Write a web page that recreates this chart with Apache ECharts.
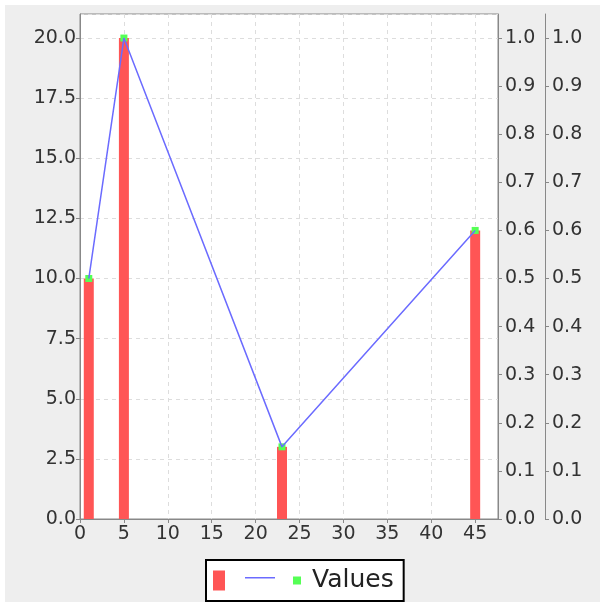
<!DOCTYPE html>
<html>
<head>
<meta charset="utf-8">
<script src="https://cdn.jsdelivr.net/npm/echarts@6/dist/echarts.min.js"></script>
<style>
  html, body { margin: 0; padding: 0; background: #ffffff; }
  #chart { position: absolute; left: 5px; top: 5px; width: 595px; height: 597px; background: #eeeeee; }
</style>
</head>
<body>
<div id="chart"></div>
<script>
// data
var xValues = [1, 5, 23, 45]
var yValues = [10, 20, 3, 12]
// axis ranges / steps
var xRange = [0, 47.6, 5]
var yRange = [0, 21, 2.5]
var rightRange = [0, 1.05, 0.1]

var points = xValues.map(function (x, i) { return [x, yValues[i]] })

var font = 'DejaVu Sans'
var axisGray = '#888888'
var labelSize = 19

function rightAxis(offset) {
  return {
    type: 'value',
    position: 'right',
    offset: offset,
    min: rightRange[0],
    max: rightRange[1],
    interval: rightRange[2],
    axisLine: { show: true, onZero: false, lineStyle: { color: axisGray } },
    axisTick: { show: true, length: 4, lineStyle: { color: axisGray } },
    axisLabel: {
      margin: 7, color: '#333', fontFamily: font, fontSize: labelSize,
      showMaxLabel: false,
      formatter: function (v) { return v.toFixed(1) }
    },
    splitLine: { show: false }
  }
}

var myChart = echarts.init(document.getElementById('chart'), null, { renderer: 'canvas' })

var option = {
  animation: false,
  grid: {
    left: 75, top: 9, right: 102, bottom: 83,
    show: true, backgroundColor: '#ffffff', borderColor: axisGray, borderWidth: 1
  },
  legend: {
    left: 201, top: 555,
    padding: [8, 10, 8, 7],
    backgroundColor: '#ffffff',
    borderColor: '#000000', borderWidth: 2, borderRadius: 0,
    itemWidth: 30, itemHeight: 20, itemGap: 2,
    textStyle: { fontFamily: font, fontSize: 25, color: '#222' },
    formatter: function (name) { return name === 'Values' ? 'Values' : '' },
    data: [
      { name: ' ', icon: 'path://M0 0M30 20M0 0H12V20H0Z' },
      { name: '  ', icon: 'path://M0 0M30 20M0 6.5H30V8H0Z' },
      { name: 'Values', icon: 'path://M0 0M30 20M16 6H24V14H16Z' }
    ]
  },
  xAxis: {
    type: 'value',
    min: xRange[0],
    max: xRange[1],
    interval: xRange[2],
    axisLine: { show: true, onZero: false, lineStyle: { color: axisGray } },
    axisTick: { show: true, length: 4, lineStyle: { color: axisGray } },
    axisLabel: { margin: 6, color: '#333', fontFamily: font, fontSize: labelSize, showMaxLabel: false },
    splitLine: { show: true, lineStyle: { color: '#dddddd', type: [4, 4] } }
  },
  yAxis: [
    {
      type: 'value',
      min: yRange[0],
      max: yRange[1],
      interval: yRange[2],
      axisLine: { show: true, onZero: false, lineStyle: { color: axisGray } },
      axisTick: { show: true, length: 4, lineStyle: { color: axisGray } },
      axisLabel: {
        margin: 4, color: '#333', fontFamily: font, fontSize: labelSize,
        showMaxLabel: false,
        formatter: function (v) { return v.toFixed(1) }
      },
      splitLine: { show: true, lineStyle: { color: '#dddddd', type: [4, 4] } }
    },
    rightAxis(0),
    rightAxis(47)
  ],
  series: [
    {
      name: ' ',
      type: 'bar',
      barWidth: 10,
      itemStyle: { color: '#ff5555' },
      data: points
    },
    {
      name: '  ',
      type: 'line',
      symbol: 'none',
      lineStyle: { color: '#6b6bff', width: 1.5 },
      itemStyle: { color: '#6b6bff' },
      data: points
    },
    {
      name: 'Values',
      type: 'scatter',
      symbol: 'rect',
      symbolSize: 7,
      itemStyle: { color: '#55ff55', opacity: 1 },
      data: points
    }
  ]
}
myChart.setOption(option)
</script>
</body>
</html>
